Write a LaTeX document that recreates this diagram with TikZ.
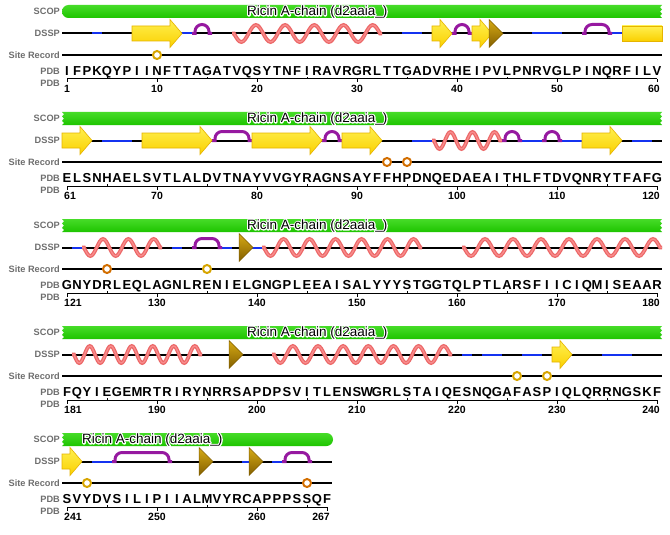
\documentclass[tikz,border=0pt]{standalone}
\usepackage{fontspec}
\setmainfont{Liberation Sans}

\definecolor{scopgreen}{RGB}{30,196,0}
\definecolor{scoplight}{RGB}{70,220,40}
\definecolor{helixpink}{RGB}{236,104,104}
\definecolor{helixlight}{RGB}{248,140,140}
\definecolor{turnblue}{RGB}{20,50,240}
\definecolor{bendpurple}{RGB}{150,25,160}
\definecolor{strandyellow}{RGB}{250,208,0}
\definecolor{strandlight}{RGB}{255,240,80}
\definecolor{strandedge}{RGB}{230,180,0}
\definecolor{bridgetop}{RGB}{215,170,20}
\definecolor{bridgedark}{RGB}{130,95,0}
\definecolor{sitegold}{RGB}{215,165,0}
\definecolor{siteorange}{RGB}{210,110,0}
\definecolor{labelgray}{RGB}{110,110,110}

% row furniture: labels, track lines and scale
\newcommand{\rowframe}[3]{%
  \node[tracklabel] (scoplab\rowid) at (60,14.6) {SCOP};
  \node[tracklabel] (dssplab\rowid) at (60,36.6) {DSSP};
  \node[tracklabel] (sitelab\rowid) at (60,58.2) {Site Record};
  \node[tracklabel] (pdblab\rowid) at (60,74.5) {PDB};
  \node[tracklabel] (numlab\rowid) at (60,86.5) {PDB};
  \draw[dsspline] (62,33.5) -- ({62+10*#1},33.5);
  \draw[siteline] (62,55) -- ({62+10*#1},55);
  \draw[tickline] (67,79) -- ({57+10*#1},79);
  \foreach \k in {1,#2} \draw[tickline] ({57+10*\k},79) -- ++(0,3.5);
  \foreach \k in {#3} \draw[tickline] ({57+10*\k},79) -- ++(0,-2.3);}

% DSSP features, residues counted within the row
\newcommand{\turnseg}[2]{\draw[turnline] ({52+10*#1},33.5) -- ({62+10*#2},33.5);}
\newcommand{\helixseg}[3]{%
  \pgfmathsetmacro{\hxa}{52+10*#1}\pgfmathsetmacro{\hxb}{62+10*#2}%
  \pgfmathsetmacro{\hper}{(\hxb-\hxa-4)/#3}%
  \pgfmathtruncatemacro{\hsamp}{16*#3+1}%
  \foreach \hstyle in {helixouter,helixinner}
    \draw[\hstyle] (\hxa,33.5) -- ({\hxa+2},33.5)
      -- plot[domain={\hxa+2}:{\hxb-2}, samples=\hsamp, smooth] (\x,{33.5+8.5*sin(360*((\x-\hxa-2)/\hper))})
      -- (\hxb,33.5);}
\newcommand{\bendseg}[2]{%
  \pgfmathsetmacro{\bxa}{52+10*#1}\pgfmathsetmacro{\bxb}{62+10*#2}%
  \draw[bendline] (\bxa,33.5) -- ({\bxa+3},33.5) -- ({\bxa+3},31.5)
    arc[start angle=180, end angle=270, radius=7] -- ({\bxb-10},24.5)
    arc[start angle=270, end angle=360, radius=7] -- ({\bxb-3},33.5) -- (\bxb,33.5);}
\newcommand{\strandseg}[2]{%
  \pgfmathsetmacro{\sxa}{52+10*#1}\pgfmathsetmacro{\sxb}{62+10*#2}%
  \path[strandarrow] (\sxa,26) -- ({\sxb-12},26) -- ({\sxb-12},19.5) -- (\sxb,33.5)
    -- ({\sxb-12},47.5) -- ({\sxb-12},41) -- (\sxa,41) -- cycle;}
\newcommand{\strandbody}[2]{\path[strandarrow] ({52+10*#1},26) rectangle ({62+10*#2},41);}
\newcommand{\bridgeat}[1]{\path[bridgetri] ({59+10*#1},19.5) -- ({73+10*#1},33.5) -- ({59+10*#1},47.5) -- cycle;}
\newcommand{\siteat}[2]{\node[sitemark, draw=#2] (site\rowid-#1) at ({57+10*#1},55) {};}

% SCOP domain name, black on a white stroked outline
\newcommand{\haloed}[1]{%
  \rlap{\color{white}\special{pdf:code 2 Tr 2.4 w 1 j}#1\special{pdf:code 0 Tr}}#1}
\newcommand{\scopname}[1]{\node[scoptext] (scopname\rowid) at (#1,15.3) {\haloed{Ricin A-chain (d2aaia\_)}};}
\newcommand{\scopcont}{%
  \path[scopbar] (62,5) -- (662,5) -- (660,7.2) -- (662,9.4) -- (660,11.6) -- (662,13.8) -- (660,16) -- (662,18)
    -- (62,18) -- (64,16) -- (62,13.8) -- (64,11.6) -- (62,9.4) -- (64,7.2) -- cycle;}

% sequence letters and residue numbers
\newcommand{\seqrow}[1]{\foreach \c [count=\k] in {#1} \node[seqletter] (seq\rowid-\k) at ({57+10*\k},75.5) {\c};}
\newcommand{\numrow}[3]{%
  \pgfmathtruncatemacro{\nfirst}{#1+1}\pgfmathtruncatemacro{\nlast}{#1+#2}%
  \node[numlabel, anchor=base west] (num\rowid-first) at (64,92.5) {\nfirst};
  \foreach \k in {#3}{\pgfmathtruncatemacro{\nmid}{#1+\k}%
    \node[numlabel, anchor=base] (num\rowid-\k) at ({57+10*\k},92.5) {\nmid};}
  \node[numlabel, anchor=base east] (num\rowid-last) at ({60+10*#2},92.5) {\nlast};}

\begin{document}
\begin{tikzpicture}[x=1pt, y=-1pt,
    tracklabel/.style={anchor=base east, inner sep=0pt, text=labelgray, font=\fontsize{9.2}{10}\selectfont\bfseries},
    seqletter/.style={anchor=base, inner sep=0pt, font=\fontsize{13}{14}\selectfont\bfseries},
    numlabel/.style={inner sep=0pt, font=\fontsize{10.5}{11}\selectfont\bfseries},
    scoptext/.style={anchor=base west, inner sep=0pt, font=\fontsize{13.5}{14}\selectfont},
    dsspline/.style={line width=2pt, black},
    siteline/.style={line width=2.4pt, black},
    tickline/.style={line width=1pt, black},
    turnline/.style={line width=2pt, turnblue},
    bendline/.style={line width=3pt, bendpurple},
    helixouter/.style={line width=3.8pt, helixpink},
    helixinner/.style={line width=1.3pt, helixlight},
    strandarrow/.style={draw=strandedge, line width=0.6pt, top color=strandlight, bottom color=strandyellow},
    bridgetri/.style={draw=bridgedark, line width=0.5pt, top color=bridgetop, bottom color=bridgedark},
    sitemark/.style={circle, minimum size=8pt, inner sep=0pt, line width=2pt, fill=white},
    scopbar/.style={top color=scoplight, bottom color=scopgreen}]
  \fill[white] (0,0) rectangle (670,535);
  \useasboundingbox (0,0) rectangle (670,535);

  % residues 1-60
  \begin{scope}
    \def\rowid{1}
    \rowframe{60}{10,20,30,40,50,60}{5,15,25,35,45,55}
    \turnseg{4}{4} \turnseg{13}{13} \turnseg{35}{36} \turnseg{48}{50} \turnseg{56}{56}
    \helixseg{18}{32}{5}
    \bendseg{14}{15} \bendseg{40}{41} \bendseg{53}{55}
    \strandseg{8}{12} \strandseg{38}{39} \strandseg{42}{43} \strandbody{57}{60}
    \bridgeat{43}
    \siteat{10}{sitegold}
    \path[scopbar] (68.5,5) -- (662,5) -- (660,7.2) -- (662,9.4) -- (660,11.6) -- (662,13.8) -- (660,16) -- (662,18)
      -- (68.5,18) arc[start angle=90, end angle=270, radius=6.5] -- cycle;
    \scopname{247}
    \seqrow{I,F,P,K,Q,Y,P,I,I,N,F,T,T,A,G,A,T,V,Q,S,Y,T,N,F,I,R,A,V,R,G,R,L,T,T,G,A,D,V,R,H,E,I,P,V,L,P,N,R,V,G,L,P,I,N,Q,R,F,I,L,V}
    \numrow{0}{60}{10,20,30,40,50}
  \end{scope}

  % residues 61-120
  \begin{scope}[yshift=-107pt]
    \def\rowid{2}
    \rowframe{60}{10,20,30,40,50,60}{5,15,25,35,45,55}
    \turnseg{5}{7} \turnseg{36}{37} \turnseg{47}{48} \turnseg{51}{52} \turnseg{58}{59}
    \helixseg{38}{44}{3}
    \bendseg{16}{19} \bendseg{27}{28} \bendseg{45}{46} \bendseg{49}{50}
    \strandseg{1}{3} \strandseg{9}{15} \strandseg{20}{26} \strandseg{29}{32} \strandseg{53}{56}
    \siteat{33}{siteorange} \siteat{35}{siteorange}
    \scopcont
    \scopname{247}
    \seqrow{E,L,S,N,H,A,E,L,S,V,T,L,A,L,D,V,T,N,A,Y,V,V,G,Y,R,A,G,N,S,A,Y,F,F,H,P,D,N,Q,E,D,A,E,A,I,T,H,L,F,T,D,V,Q,N,R,Y,T,F,A,F,G}
    \numrow{60}{60}{10,20,30,40,50}
  \end{scope}

  % residues 121-180
  \begin{scope}[yshift=-214pt]
    \def\rowid{3}
    \rowframe{60}{10,20,30,40,50,60}{5,15,25,35,45,55}
    \turnseg{2}{2} \turnseg{12}{12} \turnseg{17}{17} \turnseg{20}{20}
    \helixseg{3}{10}{3} \helixseg{21}{36}{6} \helixseg{41}{60}{7}
    \bendseg{14}{16}
    \bridgeat{18}
    \siteat{5}{siteorange} \siteat{15}{sitegold}
    \scopcont
    \scopname{247}
    \seqrow{G,N,Y,D,R,L,E,Q,L,A,G,N,L,R,E,N,I,E,L,G,N,G,P,L,E,E,A,I,S,A,L,Y,Y,Y,S,T,G,G,T,Q,L,P,T,L,A,R,S,F,I,I,C,I,Q,M,I,S,E,A,A,R}
    \numrow{120}{60}{10,20,30,40,50}
  \end{scope}

  % residues 181-240
  \begin{scope}[yshift=-321pt]
    \def\rowid{4}
    \rowframe{60}{10,20,30,40,50,60}{5,15,25,35,45,55}
    \turnseg{41}{41} \turnseg{43}{44} \turnseg{47}{48} \turnseg{55}{57}
    \helixseg{2}{14}{6} \helixseg{22}{39}{7}
    \strandseg{50}{51}
    \bridgeat{17}
    \siteat{46}{sitegold} \siteat{49}{sitegold}
    \scopcont
    \scopname{247}
    \seqrow{F,Q,Y,I,E,G,E,M,R,T,R,I,R,Y,N,R,R,S,A,P,D,P,S,V,I,T,L,E,N,S,W,G,R,L,S,T,A,I,Q,E,S,N,Q,G,A,F,A,S,P,I,Q,L,Q,R,R,N,G,S,K,F}
    \numrow{180}{60}{10,20,30,40,50}
  \end{scope}

  % residues 241-267
  \begin{scope}[yshift=-428pt]
    \def\rowid{5}
    \rowframe{27}{10,20,27}{5,15,25}
    \turnseg{4}{5} \turnseg{19}{19} \turnseg{22}{22}
    \bendseg{6}{11} \bendseg{23}{25}
    \strandseg{1}{2}
    \bridgeat{14} \bridgeat{19}
    \siteat{3}{sitegold} \siteat{25}{siteorange}
    \path[scopbar] (62,5) -- (326.5,5) arc[start angle=-90, end angle=90, radius=6.5]
      -- (62,18) -- (64,16) -- (62,13.8) -- (64,11.6) -- (62,9.4) -- (64,7.2) -- cycle;
    \scopname{82}
    \seqrow{S,V,Y,D,V,S,I,L,I,P,I,I,A,L,M,V,Y,R,C,A,P,P,P,S,S,Q,F}
    \numrow{240}{27}{10,20}
  \end{scope}
\end{tikzpicture}
\end{document}
